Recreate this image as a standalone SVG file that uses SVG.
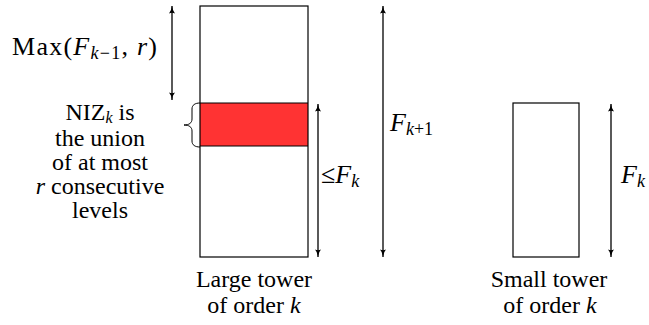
<svg xmlns="http://www.w3.org/2000/svg" width="649" height="325" viewBox="0 0 649 325">
<style>
text{font-family:'Liberation Serif','DejaVu Serif',serif;font-size:24px;fill:#000}
.m{font-size:26px}
.i{font-style:italic}
.s{font-size:18px}
.ns{font-size:16px}
.box{fill:none;stroke:#000;stroke-width:1.2}
.arr{stroke:#000;stroke-width:1.3;fill:none;marker-start:url(#ah);marker-end:url(#ah)}
</style>
<defs>
<marker id="ah" viewBox="0 0 10 8" refX="9.5" refY="4" markerWidth="8" markerHeight="6.4" markerUnits="userSpaceOnUse" orient="auto-start-reverse">
<path d="M0,0 Q3,3.2 10,4 Q3,4.8 0,8 Q2,4 0,0 Z" fill="#000"/>
</marker>
</defs>
<g id="large-tower" font-family="Liberation Serif, serif">
<rect x="200" y="103" width="108" height="43" fill="#ff3333"/>
<rect class="box" x="200" y="6" width="108" height="251"/>
<line x1="200" y1="103" x2="308" y2="103" stroke="#000" stroke-width="1.2"/>
<line x1="200" y1="146" x2="308" y2="146" stroke="#000" stroke-width="1.2"/>
<text x="254" y="287" text-anchor="middle">Large tower</text>
<text x="254" y="313" text-anchor="middle">of order <tspan class="i">k</tspan></text>
</g>
<g id="small-tower" font-family="Liberation Serif, serif">
<rect class="box" x="513" y="103" width="66" height="154"/>
<text x="549" y="287" text-anchor="middle">Small tower</text>
<text x="550" y="313" text-anchor="middle">of order <tspan class="i">k</tspan></text>
</g>
<g id="niz-label" font-family="Liberation Serif, serif">
<path d="M200,103 C195,103 192,105 192,109 L192,119 C192,123 189,125 184,125 C189,125 192,127 192,131 L192,141 C192,145 195,147 200,147" fill="none" stroke="#000" stroke-width="1"/>
<text x="100" y="120" text-anchor="middle">NIZ<tspan class="i ns" dy="3">k</tspan><tspan dy="-3"> is</tspan></text>
<text x="100" y="146" text-anchor="middle">the union</text>
<text x="100" y="170" text-anchor="middle">of at most</text>
<text x="100" y="194" text-anchor="middle"><tspan class="i">r</tspan> consecutive</text>
<text x="100" y="218" text-anchor="middle">levels</text>
</g>
<g id="connectors">
<line class="arr" x1="172" y1="6" x2="172" y2="100"/>
<line class="arr" x1="318" y1="104" x2="318" y2="257"/>
<line class="arr" x1="383" y1="6" x2="383" y2="257"/>
<line class="arr" x1="611" y1="104" x2="611" y2="257"/>
</g>
<g id="labels" font-family="Liberation Serif, serif">
<text class="m" x="12" y="55" textLength="145">Max(<tspan class="i">F</tspan><tspan class="s i" dy="4">k</tspan><tspan class="s">−1</tspan><tspan dy="-4">, </tspan><tspan class="i">r</tspan>)</text>
<text class="m" x="321" y="183">≤<tspan class="i">F</tspan><tspan class="s i" dy="4">k</tspan></text>
<text class="m" x="390" y="131"><tspan class="i">F</tspan><tspan class="s i" dy="4">k</tspan><tspan class="s">+1</tspan></text>
<text class="m" x="621" y="183"><tspan class="i">F</tspan><tspan class="s i" dy="4">k</tspan></text>
</g>
</svg>
